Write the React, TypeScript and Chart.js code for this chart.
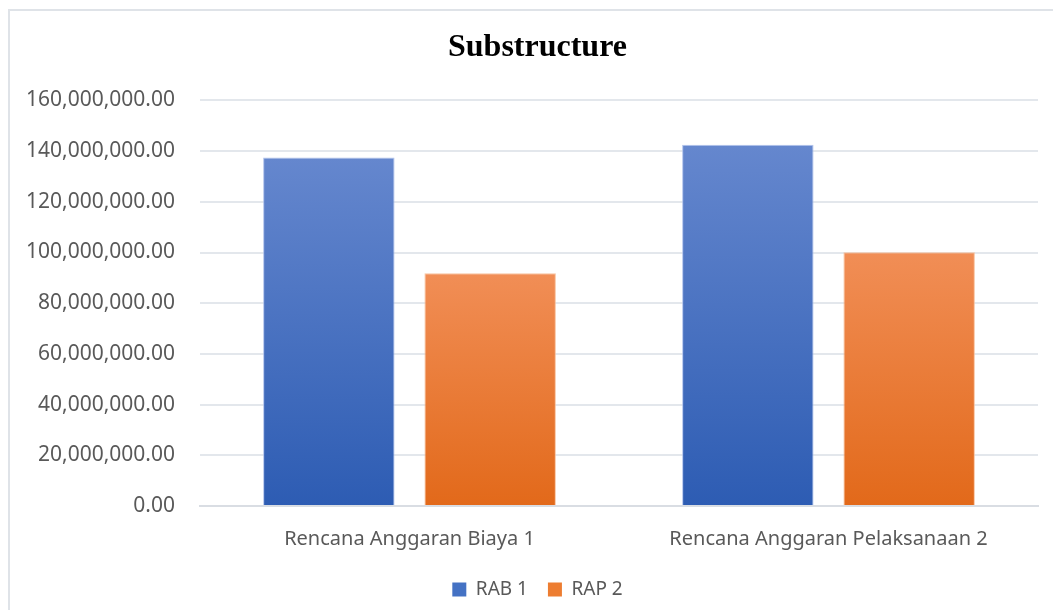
import React, { useEffect, useRef } from "react";
import { Chart, registerables } from "chart.js";

Chart.register(...registerables);

const chartTitle = "Substructure";
const categories = ["Rencana Anggaran Biaya 1", "Rencana Anggaran Pelaksanaan 2"];
const seriesNames = ["RAB 1", "RAP 2"];
const rab1Values = [137500000, 142500000];
const rap2Values = [91800000, 100100000];
const yTickMax = 160000000;
const yTickStep = 20000000;

const blueTop = "#6587ce";
const blueBottom = "#2d5cb3";
const orangeTop = "#f18e56";
const orangeBottom = "#e2691a";
const blueSwatch = "#4472c4";
const orangeSwatch = "#ed7d31";

const labelFont = "'Noto Sans', 'Open Sans', sans-serif";

// Vertical gradient running from each bar's top down to the zero line.
function barGradient(top: string, bottom: string) {
  return (ctx: any) => {
    const chart = ctx.chart;
    const y = chart.scales?.y;
    if (!y || ctx.type !== "data") return top;
    const value = ctx.dataset.data[ctx.dataIndex] as number;
    const yTop = y.getPixelForValue(value);
    const yBase = y.getPixelForValue(0);
    if (!isFinite(yTop) || !isFinite(yBase) || yTop === yBase) return top;
    const g = chart.ctx.createLinearGradient(0, yTop, 0, yBase);
    g.addColorStop(0, top);
    g.addColorStop(1, bottom);
    return g;
  };
}

// Let the long y tick labels run into the left padding without being clipped.
const widenYLabelArea = {
  id: "widenYLabelArea",
  afterLayout(chart: any) {
    const y = chart.scales?.y;
    if (y) y.left = 0;
  },
};

export default function App() {
  const canvasRef = useRef<HTMLCanvasElement | null>(null);

  useEffect(() => {
    document.body.style.overflow = "hidden";
    const canvas = canvasRef.current;
    if (!canvas) return;
    const chart = new Chart(canvas, {
      type: "bar",
      data: {
        labels: categories,
        datasets: [
          {
            label: seriesNames[0],
            data: rab1Values,
            backgroundColor: barGradient(blueTop, blueBottom),
            borderColor: "rgba(170,190,235,0.9)",
            borderWidth: 1,
            borderSkipped: "bottom",
            categoryPercentage: 0.77,
            barPercentage: 0.815,
          },
          {
            label: seriesNames[1],
            data: rap2Values,
            backgroundColor: barGradient(orangeTop, orangeBottom),
            borderColor: "rgba(248,190,150,0.9)",
            borderWidth: 1,
            borderSkipped: "bottom",
            categoryPercentage: 0.77,
            barPercentage: 0.815,
          },
        ],
      },
      plugins: [widenYLabelArea],
      options: {
        animation: false,
        responsive: true,
        maintainAspectRatio: false,
        layout: { padding: { left: 37, right: 15, top: 0, bottom: 1 } },
        plugins: {
          title: {
            display: true,
            text: chartTitle,
            color: "#000000",
            font: { family: "'Liberation Serif', 'Times New Roman', serif", size: 32, weight: "bold" },
            padding: { top: 29, bottom: 33 },
          },
          legend: {
            display: true,
            position: "bottom",
            labels: {
              boxWidth: 14,
              boxHeight: 14,
              color: "#595959",
              font: { family: labelFont, size: 19 },
              padding: 20,
              useBorderRadius: false,
              generateLabels: (c: any) =>
                c.data.datasets.map((ds: any, i: number) => ({
                  text: ds.label,
                  fillStyle: i === 0 ? blueSwatch : orangeSwatch,
                  strokeStyle: i === 0 ? blueSwatch : orangeSwatch,
                  lineWidth: 0,
                  fontColor: "#595959",
                  hidden: !c.isDatasetVisible(i),
                  datasetIndex: i,
                })),
            },
          },
          tooltip: { enabled: false },
        },
        scales: {
          x: {
            grid: { display: false, drawTicks: false },
            border: { display: true, color: "#d9dde3", width: 2 },
            ticks: {
              color: "#595959",
              font: { family: labelFont, size: 20 },
              padding: 21,
            },
            afterFit: (scale: any) => {
              scale.height = 54;
            },
          },
          y: {
            min: 0,
            max: yTickMax,
            grid: { color: "#e3e7ec", lineWidth: 2, drawTicks: false },
            border: { display: false },
            ticks: {
              stepSize: yTickStep,
              color: "#595959",
              font: { family: labelFont, size: 21 },
              padding: 25,
              callback: (v: any) =>
                Number(v).toLocaleString("en-US", { minimumFractionDigits: 2, maximumFractionDigits: 2 }),
            },
            afterFit: (scale: any) => {
              scale.width = 163;
            },
          },
        },
      },
    });
    return () => chart.destroy();
  }, []);

  return (
    <div style={{ position: "fixed", left: 0, top: 0, width: 1053, height: 610, background: "#ffffff" }}>
      <div
        style={{
          position: "absolute",
          left: 8,
          top: 9,
          width: 1100,
          height: 700,
          borderLeft: "2px solid #dfe3e8",
          borderTop: "2px solid #dfe3e8",
          boxSizing: "border-box",
        }}
      />
      <div style={{ position: "absolute", left: 0, top: 0, width: 1053, height: 610 }}>
        <canvas ref={canvasRef} />
      </div>
    </div>
  );
}
